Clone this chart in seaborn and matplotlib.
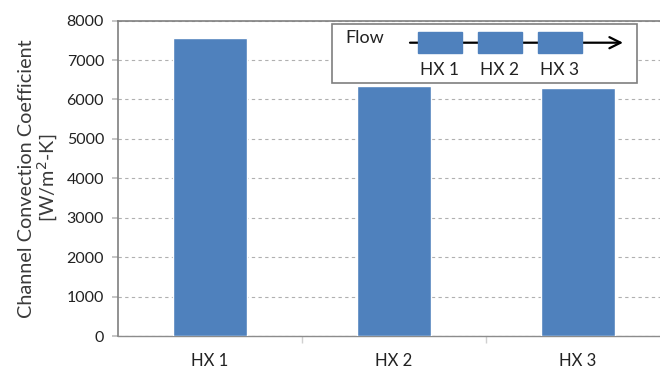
import matplotlib
matplotlib.use("Agg")
import matplotlib.pyplot as plt
import matplotlib.patches as mpatches
import seaborn as sns
import pandas as pd

# Channel convection coefficient per heat exchanger
exchangers = ["HX 1", "HX 2", "HX 3"]
coefficients = [7550, 6330, 6285]
y_ticks = [0, 1000, 2000, 3000, 4000, 5000, 6000, 7000, 8000]

sns.set_theme(style="white")
plt.rcParams["font.family"] = ["Lato", "DejaVu Sans"]

W, H = 660, 371
fig = plt.figure(figsize=(W / 100, H / 100), dpi=100)
ax = fig.add_axes([118 / W, 1 - 336 / H, 552 / W, (336 - 20.6) / H])

df = pd.DataFrame({"hx": exchangers, "h": coefficients})
sns.barplot(data=df, x="hx", y="h", color="#4F81BD", saturation=1,
            width=0.4, ax=ax, zorder=3)

ax.set_ylim(0, 8000)
ax.set_yticks(y_ticks)
ax.set_yticklabels([str(v) for v in y_ticks], fontsize=11.5, color="#222222")
ax.set_xlim(-0.5, 2.5)
ax.set_xticks([0, 1, 2])
ax.set_xticklabels(exchangers, fontsize=12, color="#222222")
ax.set_xlabel("")
ax.set_ylabel("Channel Convection Coefficient\n[W/m$^2$-K]", fontsize=14.3,
              color="#3A3A3A", labelpad=5, linespacing=1.0)

ax.yaxis.grid(True, linestyle=(0, (3, 3)), color="#B0B0B0", linewidth=0.8, zorder=0)
ax.xaxis.grid(False)
for side in ["top", "left"]:
    ax.spines[side].set_color("#7F7F7F")
    ax.spines[side].set_linewidth(1.2)
ax.spines["right"].set_visible(False)
ax.spines["bottom"].set_color("#8C8C8C")
ax.spines["bottom"].set_linewidth(1.0)
ax.tick_params(axis="y", left=True, length=4, color="#BFBFBF", pad=6)
ax.tick_params(axis="x", bottom=False, pad=6)
# category boundary ticks
ax.set_xticks([0.5, 1.5], minor=True)
ax.tick_params(axis="x", which="minor", bottom=True, length=5, color="#D0D0D0")

# Flow schematic inset
def fx(px):
    return px / W

def fy(py):
    return 1 - py / H

box = mpatches.Rectangle((fx(332), fy(82.5)), fx(636.5) - fx(332), fy(24) - fy(82.5),
                         transform=fig.transFigure, facecolor="white",
                         edgecolor="#7F7F7F", linewidth=1.2, zorder=5)
fig.add_artist(box)
fig.text(fx(365), fy(38), "Flow", fontsize=13, ha="center", va="center",
         color="#222222", zorder=6)
arrow = mpatches.FancyArrowPatch((fx(410), fy(42.7)), (fx(623), fy(42.7)),
                                 transform=fig.transFigure, arrowstyle="->",
                                 color="black", lw=1.6, mutation_scale=20,
                                 shrinkA=0, shrinkB=0, zorder=6)
fig.add_artist(arrow)
for left, label in zip([417.5, 477.5, 537.5], exchangers):
    r = mpatches.Rectangle((fx(left), fy(52.5)), fx(44.5), fy(32) - fy(52.5),
                           transform=fig.transFigure, facecolor="#4F81BD",
                           edgecolor="#4F81BD", zorder=7)
    fig.add_artist(r)
    fig.text(fx(left + 22), fy(70), label, fontsize=12.5, ha="center",
             va="center", color="#222222", zorder=8)

fig.savefig("out.png", dpi=100)
